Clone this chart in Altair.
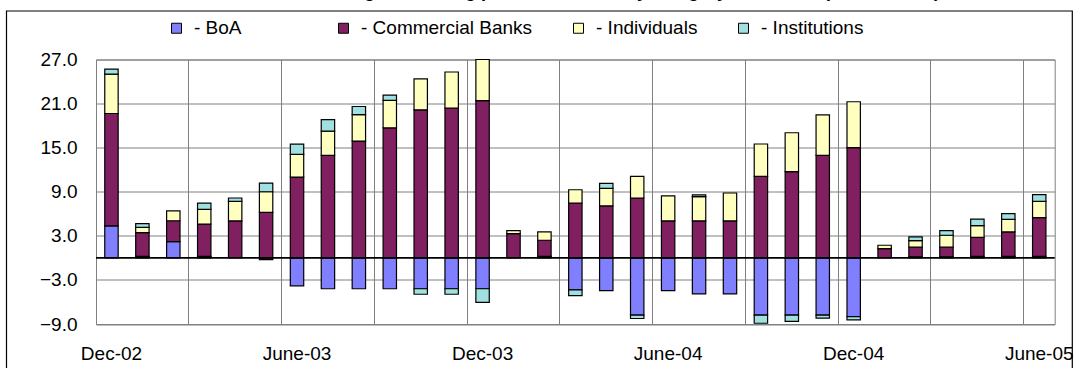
import json
import altair as alt
import pandas as pd

# ---- data ----
months = ["Dec-02", "Jan-03", "Feb-03", "Mar-03", "Apr-03", "May-03", "June-03", "Jul-03",
          "Aug-03", "Sep-03", "Oct-03", "Nov-03", "Dec-03", "Jan-04", "Feb-04", "Mar-04",
          "Apr-04", "May-04", "June-04", "Jul-04", "Aug-04", "Sep-04", "Oct-04", "Nov-04",
          "Dec-04", "Jan-05", "Feb-05", "Mar-05", "Apr-05", "May-05", "June-05"]
boa = [4.35, 0.2, 2.2, 0.2, 0.05, -0.25, -3.8, -4.2, -4.2, -4.2, -4.2, -4.2, -4.2, 0.0, 0.2, -4.35,
       -4.45, -7.8, -4.45, -4.9, -4.9, -7.8, -7.8, -7.8, -8.0, 0.05, 0.15, 0.15, 0.2, 0.2, 0.2]
commercial = [15.3, 3.25, 2.85, 4.4, 4.98, 6.2, 11.0, 13.95, 15.9, 17.7, 20.15, 20.4, 21.4, 3.3, 2.2, 7.47,
              7.07, 8.15, 5.03, 5.03, 5.03, 11.1, 11.73, 13.95, 15.0, 1.22, 1.3, 1.3, 2.6, 3.33, 5.28]
individuals = [5.35, 0.7, 1.35, 2.0, 2.67, 2.8, 3.08, 3.3, 3.6, 3.75, 4.2, 4.9, 5.6, 0.4, 1.13, 1.8,
               2.4, 2.95, 3.4, 3.3, 3.8, 4.4, 5.3, 5.5, 6.25, 0.45, 0.9, 1.63, 1.58, 1.72, 2.22]
institutions = [0.7, 0.5, 0.0, 0.85, 0.45, 1.18, 1.4, 1.58, 1.1, 0.7, -0.75, -0.75, -1.85, 0.0, 0.0, -0.8,
                0.67, -0.45, 0.0, 0.25, 0.0, -1.1, -0.85, -0.4, -0.45, 0.0, 0.5, 0.63, 0.9, 0.77, 0.9]

series = ["BoA", "Commercial Banks", "Individuals", "Institutions"]
colors = ["#8080FF", "#802060", "#FFFFC0", "#A0E0E0"]
y_ticks = [-9, -3, 3, 9, 15, 21, 27]
shown_labels = ["Dec-02", "June-03", "Dec-03", "June-04", "Dec-04", "June-05"]
grid_months = months[::3]
title_text = "Change in holding pattern of T-bills by category of holders (in billion lek)"

rows = []
for i, m in enumerate(months):
    for k, vals in enumerate([boa, commercial, individuals, institutions]):
        rows.append({"month": m, "series": series[k], "ord": k, "value": vals[i]})
df = pd.DataFrame(rows)

FONT = "Liberation Sans"
FS = 19
W, H = 958.7, 264.5
PAD_L, PAD_T = 96, 59.5

x_scale = alt.Scale(domain=months, paddingInner=0, paddingOuter=0)
y_scale = alt.Scale(domain=[-9, 27], nice=False, zero=False)

label_expr = "indexof(" + json.dumps(shown_labels) + ", datum.value) >= 0 ? datum.value : ''"
blank = "\u2800" * 4
legend_expr = "datum.label == 'BoA' ? '- BoA" + blank + "' : '- ' + datum.label"

y_axis = alt.Axis(values=y_ticks, format=".1f", grid=True, gridColor="#808080", gridWidth=1,
                  ticks=False, domain=False, labelPadding=19, labelFontSize=FS,
                  labelFont=FONT, labelColor="black", title=None)

frame = alt.Chart(pd.DataFrame({"a": [0]})).mark_rect(
    fillOpacity=0, stroke="black", strokeWidth=1.2
).encode(
    x=alt.value(6.5 - PAD_L), x2=alt.value(1072.3 - PAD_L),
    y=alt.value(11 - PAD_T), y2=alt.value(400 - PAD_T),
)

bars = alt.Chart(df).transform_filter("datum.value != 0").mark_bar(
    stroke="black", strokeWidth=1.2, width=alt.RelativeBandSize(0.433)
).encode(
    x=alt.X("month:N", scale=x_scale, sort=months,
            axis=alt.Axis(values=grid_months, bandPosition=0, grid=True, gridColor="#808080",
                          gridWidth=1, ticks=False, domain=False, labelExpr=label_expr,
                          labelOffset=0, labelPadding=20, labelFontSize=FS, labelFont=FONT,
                          labelColor="black", labelAngle=0, labelOverlap=False, title=None)),
    y=alt.Y("value:Q", scale=y_scale, stack="zero", axis=y_axis),
    color=alt.Color("series:N", scale=alt.Scale(domain=series, range=colors),
                    legend=alt.Legend(orient="none", legendX=71, legendY=-41, direction="horizontal",
                                      columns=4, symbolType="square", symbolSize=100,
                                      symbolStrokeColor="black", symbolStrokeWidth=1,
                                      labelFontSize=FS, labelFont=FONT, labelColor="black",
                                      labelLimit=400, columnPadding=36, labelOffset=8, padding=0,
                                      title=None, labelExpr=legend_expr)),
    order=alt.Order("ord:Q", sort="ascending"),
)

zero_rule = alt.Chart(pd.DataFrame({"value": [0]})).mark_rule(color="black", strokeWidth=1.6).encode(
    y=alt.Y("value:Q", scale=y_scale, axis=y_axis)
)

title = alt.Chart(pd.DataFrame({"t": [title_text]})).mark_text(
    font=FONT, fontSize=18, fontWeight="bold", align="right", baseline="alphabetic", color="black"
).encode(text="t:N", x=alt.value(940 - PAD_L), y=alt.value(-3 - PAD_T))

chart = alt.layer(frame, bars, zero_rule, title).properties(
    width=W, height=H,
    autosize=alt.AutoSizeParams(type="none"),
    padding={"left": PAD_L, "top": PAD_T, "right": 1082 - PAD_L - W, "bottom": 368 - PAD_T - H},
    background="white",
).configure_view(stroke="#808080", strokeWidth=1)

chart.save("out.html", embed_options={"renderer": "svg", "actions": False})
